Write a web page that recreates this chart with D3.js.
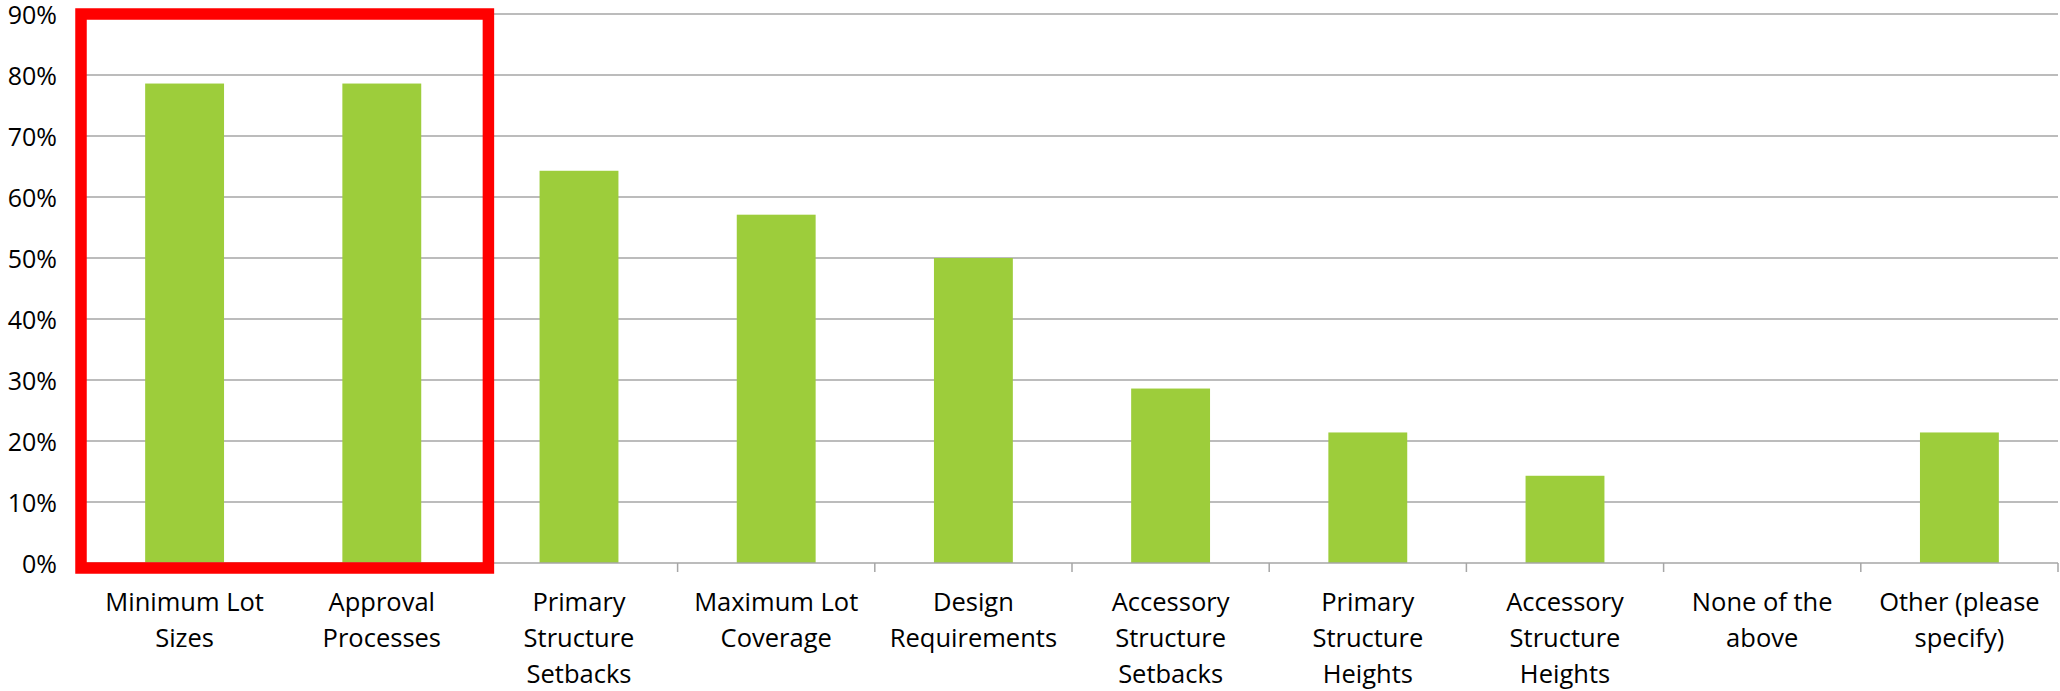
<!DOCTYPE html>
<html>
<head>
<meta charset="utf-8">
<script src="https://cdn.jsdelivr.net/npm/d3@7"></script>
<style>
  html, body { margin: 0; padding: 0; background: #fff; }
  svg { display: block; }
  text { font-family: "Open Sans", "Noto Sans", sans-serif; fill: #000; }
</style>
</head>
<body>
<svg id="chart" width="2060" height="691"></svg>
<script>
// Survey responses: share of respondents selecting each regulation type
const categories = [
  ["Minimum Lot", "Sizes"],
  ["Approval", "Processes"],
  ["Primary", "Structure", "Setbacks"],
  ["Maximum Lot", "Coverage"],
  ["Design", "Requirements"],
  ["Accessory", "Structure", "Setbacks"],
  ["Primary", "Structure", "Heights"],
  ["Accessory", "Structure", "Heights"],
  ["None of the", "above"],
  ["Other (please", "specify)"]
];
const values = [0.786, 0.786, 0.643, 0.571, 0.500, 0.286, 0.214, 0.143, 0, 0.214];
const yTicks = [0, 0.1, 0.2, 0.3, 0.4, 0.5, 0.6, 0.7, 0.8, 0.9];
// Categories enclosed by the highlight frame
const highlighted = [0, 1];

const svg = d3.select("#chart");
const plotLeft = 86, plotRight = 2058, plotTop = 14, plotBottom = 563;

const keys = categories.map((c, i) => i);
const x = d3.scaleBand().domain(keys).range([plotLeft, plotRight])
  .paddingInner(0.6).paddingOuter(0.3);
const y = d3.scaleLinear().domain([0, 0.9]).range([plotBottom, plotTop]);

// Horizontal gridlines
svg.append("g").selectAll("line").data(yTicks.filter(d => d > 0)).join("line")
  .attr("x1", plotLeft).attr("x2", plotRight)
  .attr("y1", d => y(d)).attr("y2", d => y(d))
  .attr("stroke", "#a6a6a6").attr("stroke-width", 1.5);

// Y axis labels
svg.append("g").selectAll("text").data(yTicks).join("text")
  .attr("x", 57).attr("y", d => y(d))
  .attr("text-anchor", "end").attr("dominant-baseline", "central")
  .style("font-size", "25px")
  .text(d => d3.format(".0%")(d));

// Bars
svg.append("g").selectAll("rect").data(values).join("rect")
  .attr("x", (d, i) => x(i)).attr("width", x.bandwidth())
  .attr("y", d => y(d)).attr("height", d => y(0) - y(d))
  .attr("fill", "#9dcd3b");

// Category axis line and tick marks between categories
const step = x.step();
svg.append("line")
  .attr("x1", plotLeft).attr("x2", plotRight).attr("y1", y(0)).attr("y2", y(0))
  .attr("stroke", "#a6a6a6").attr("stroke-width", 1.5);
const boundaries = d3.range(categories.length + 1).map(i => plotLeft + i * step);
svg.append("g").selectAll("line").data(boundaries).join("line")
  .attr("x1", d => d).attr("x2", d => d)
  .attr("y1", y(0)).attr("y2", y(0) + 9)
  .attr("stroke", "#a6a6a6").attr("stroke-width", 1.5);

// Category labels (multi-line, centred under each bar)
const labels = svg.append("g").selectAll("text").data(categories).join("text")
  .attr("text-anchor", "middle")
  .style("font-size", "25.5px")
  .attr("transform", (d, i) => `translate(${x(i) + x.bandwidth() / 2},610.7)`);
labels.selectAll("tspan").data(d => d).join("tspan")
  .attr("x", 0).attr("y", (d, j) => j * 36.3)
  .text(d => d);

// Highlight frame around the top two categories
const hx0 = plotLeft - 5;
const hx1 = plotLeft + (d3.max(highlighted) + 1) * step + 8;
svg.append("rect")
  .attr("x", hx0).attr("y", y(0.9))
  .attr("width", hx1 - hx0).attr("height", y(0) + 5 - y(0.9))
  .attr("fill", "none").attr("stroke", "#ff0000").attr("stroke-width", 11.5);
</script>
</body>
</html>
